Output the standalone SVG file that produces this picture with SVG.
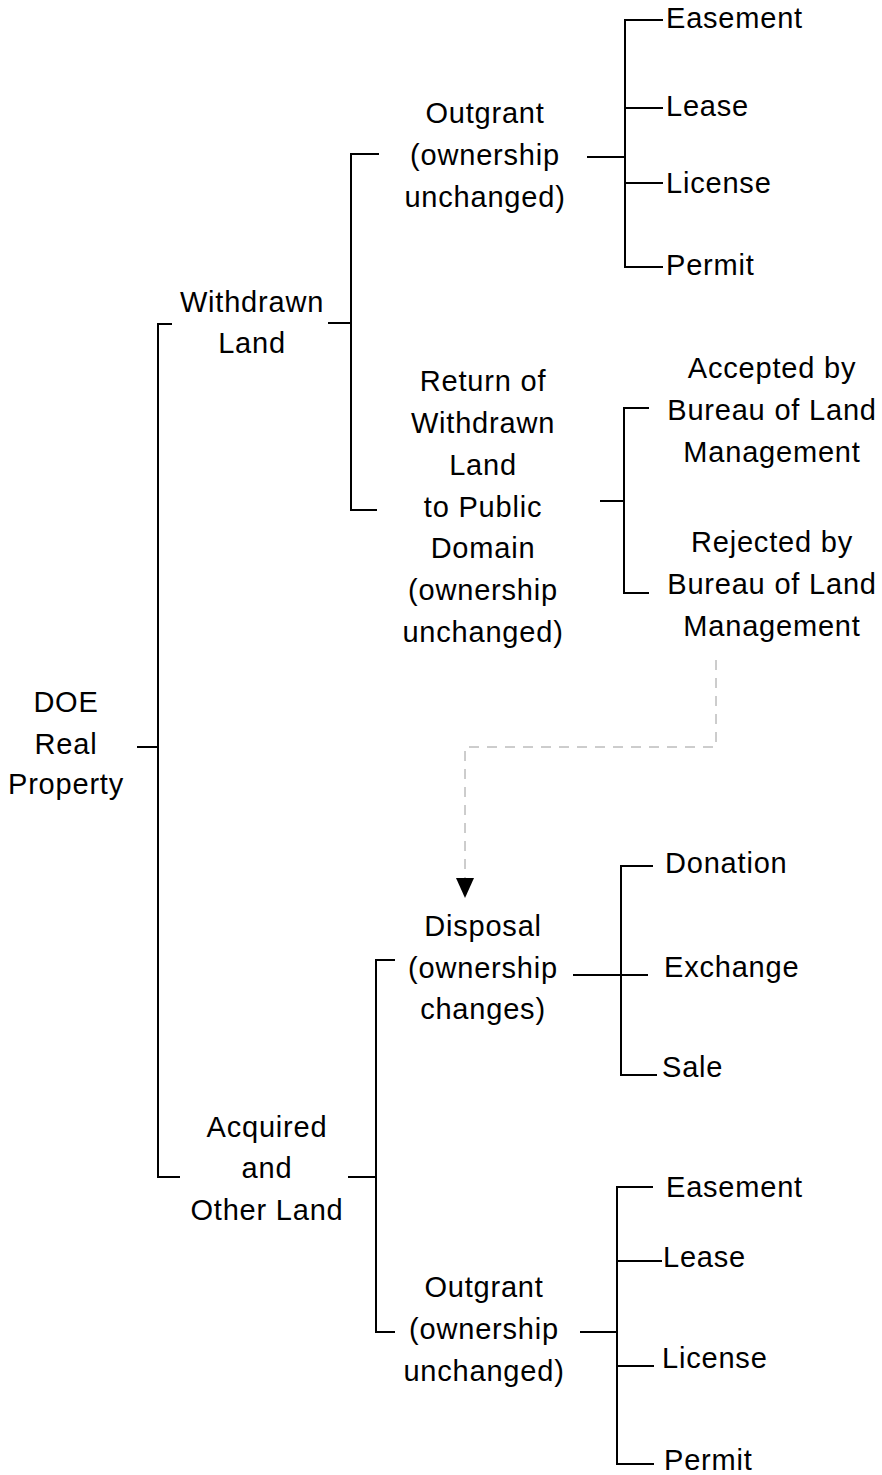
<svg xmlns="http://www.w3.org/2000/svg" width="882" height="1475" viewBox="0 0 882 1475">
<style>
text{font-family:"Liberation Sans",Arial,sans-serif;font-size:29px;letter-spacing:0.8px;fill:#000}
.c{text-anchor:middle}
.ln{fill:none;stroke:#000;stroke-width:2}
.dash{fill:none;stroke:#9a9a9a;stroke-width:1;stroke-dasharray:10 8}
</style>
<defs>
<marker id="arr" markerWidth="20" markerHeight="18" refX="0" refY="9" orient="auto" markerUnits="userSpaceOnUse" viewBox="0 0 20 18">
<polygon points="0,0 20,9 0,18" fill="#000"/>
</marker>
</defs>
<rect width="882" height="1475" fill="#fff"/>
<g id="connectors">
<path class="ln" d="M137,747H158M172,324H158V1177H180"/>
<path class="ln" d="M328,323H351M379,154H351V510H377"/>
<path class="ln" d="M587,157H625M663,20H625V267H663M625,108H663M625,183H663"/>
<path class="ln" d="M600,501H624M649,408H624V593H649"/>
<path class="ln" d="M348,1177H376M395,960H376V1332H395"/>
<path class="ln" d="M573,975H648M653,866H621V1075H657"/>
<path class="ln" d="M580,1332H617M653,1187H617V1464H654M617,1261H662M617,1366H654"/>
<path class="dash" d="M716,660V747H465V878" marker-end="url(#arr)"/>
</g>
<g id="root"><text class="c" x="66" y="712">DOE</text><text class="c" x="66" y="754">Real</text><text class="c" x="66" y="794">Property</text></g>
<g id="withdrawn"><text class="c" x="252" y="312">Withdrawn</text><text class="c" x="252" y="353">Land</text></g>
<g id="outgrant1"><text class="c" x="485" y="123">Outgrant</text><text class="c" x="485" y="165">(ownership</text><text class="c" x="485" y="207">unchanged)</text></g>
<g id="easement1"><text x="666" y="28">Easement</text></g>
<g id="lease1"><text x="666" y="116">Lease</text></g>
<g id="license1"><text x="666" y="193">License</text></g>
<g id="permit1"><text x="666" y="275">Permit</text></g>
<g id="return"><text class="c" x="483" y="391">Return of</text><text class="c" x="483" y="433">Withdrawn</text><text class="c" x="483" y="475">Land</text><text class="c" x="483" y="517">to Public</text><text class="c" x="483" y="558">Domain</text><text class="c" x="483" y="600">(ownership</text><text class="c" x="483" y="642">unchanged)</text></g>
<g id="accepted"><text class="c" x="772" y="378">Accepted by</text><text class="c" x="772" y="420">Bureau of Land</text><text class="c" x="772" y="462">Management</text></g>
<g id="rejected"><text class="c" x="772" y="552">Rejected by</text><text class="c" x="772" y="594">Bureau of Land</text><text class="c" x="772" y="636">Management</text></g>
<g id="disposal"><text class="c" x="483" y="936">Disposal</text><text class="c" x="483" y="978">(ownership</text><text class="c" x="483" y="1019">changes)</text></g>
<g id="donation"><text x="665" y="873">Donation</text></g>
<g id="exchange"><text x="664" y="977">Exchange</text></g>
<g id="sale"><text x="662" y="1077">Sale</text></g>
<g id="acquired"><text class="c" x="267" y="1137">Acquired</text><text class="c" x="267" y="1178">and</text><text class="c" x="267" y="1220">Other Land</text></g>
<g id="outgrant2"><text class="c" x="484" y="1297">Outgrant</text><text class="c" x="484" y="1339">(ownership</text><text class="c" x="484" y="1381">unchanged)</text></g>
<g id="easement2"><text x="666" y="1197">Easement</text></g>
<g id="lease2"><text x="663" y="1267">Lease</text></g>
<g id="license2"><text x="662" y="1368">License</text></g>
<g id="permit2"><text x="664" y="1470">Permit</text></g>
</svg>
